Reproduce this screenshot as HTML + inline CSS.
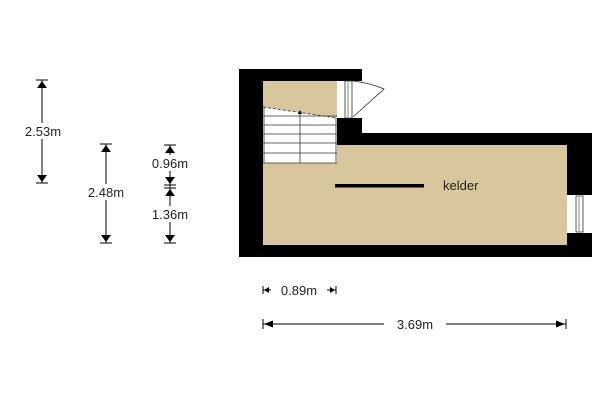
<!DOCTYPE html>
<html><head><style>body{margin:0;background:#fff}</style></head><body>
<svg width="600" height="400" xmlns="http://www.w3.org/2000/svg" font-family="Liberation Sans, sans-serif" font-size="13">
<rect width="600" height="400" fill="#fff"/>
<path d="M239,69 H362 V133 H592 V257 H239 Z" fill="#000"/>
<rect x="263" y="81" width="74" height="37" fill="#d8c79c"/>
<rect x="263" y="145" width="304" height="100" fill="#d8c79c"/>
<rect x="263" y="107" width="74" height="56" fill="#fff"/>
<path d="M263,107 L337,118 V107 Z" fill="#d8c79c"/>
<g stroke="#333" stroke-width="0.8">
<line x1="263" y1="116" x2="337" y2="116"/><line x1="263" y1="125" x2="337" y2="125"/><line x1="263" y1="134" x2="337" y2="134"/><line x1="263" y1="143" x2="337" y2="143"/><line x1="263" y1="153" x2="337" y2="153"/><line x1="263" y1="163" x2="337" y2="163"/>
<line x1="300" y1="113" x2="300" y2="163"/>
<line x1="263" y1="107" x2="337" y2="118" stroke-dasharray="3,2"/>
<line x1="264" y1="107" x2="264" y2="163"/><line x1="336" y1="118" x2="336" y2="163"/>
</g>
<path d="M300,110 l-2,4 h4 z" fill="#000"/>
<rect x="337" y="81" width="25" height="37" fill="#fff"/>
<rect x="345" y="81" width="7" height="37" fill="#fff" stroke="#333" stroke-width="0.8"/>
<line x1="348" y1="82" x2="348" y2="117" stroke="#333" stroke-width="0.6"/>
<path d="M353,117 L384,89 Q370,83 353,81" fill="none" stroke="#333" stroke-width="0.8"/>
<rect x="567" y="195" width="25" height="38" fill="#fff"/>
<rect x="576" y="196" width="7" height="36" fill="#fff" stroke="#333" stroke-width="0.8"/>
<line x1="579" y1="197" x2="579" y2="231" stroke="#333" stroke-width="0.6"/>
<rect x="335" y="184" width="89" height="3.5" fill="#000"/>
<text x="443" y="190" fill="#222">kelder</text>
<g stroke="#000" stroke-width="1" fill="#000">
<line x1="42" y1="80" x2="42" y2="183"/><line x1="36" y1="80" x2="48" y2="80"/><line x1="36" y1="183" x2="48" y2="183"/>
<path d="M42,81 l-5,7 h10z M42,182 l-5,-7 h10z" stroke="none"/>
<line x1="106" y1="144" x2="106" y2="243"/><line x1="100" y1="144" x2="112" y2="144"/><line x1="100" y1="243" x2="112" y2="243"/>
<path d="M106,145 l-5,7 h10z M106,242 l-5,-7 h10z" stroke="none"/>
<line x1="170" y1="145" x2="170" y2="243"/><line x1="164" y1="145" x2="176" y2="145"/><line x1="164" y1="185" x2="176" y2="185"/><line x1="164" y1="188" x2="176" y2="188"/><line x1="164" y1="243" x2="176" y2="243"/>
<path d="M170,146 l-5,7 h10z M170,184 l-5,-7 h10z M170,189 l-5,7 h10z M170,242 l-5,-7 h10z" stroke="none"/>
<line x1="263" y1="290" x2="336" y2="290"/><line x1="263" y1="286" x2="263" y2="294"/><line x1="336" y1="286" x2="336" y2="294"/>
<path d="M264,290 l5,-3 v6z M335,290 l-5,-3 v6z" stroke="none"/>
<line x1="263" y1="324" x2="566" y2="324"/><line x1="263" y1="319" x2="263" y2="329"/><line x1="566" y1="319" x2="566" y2="329"/>
<path d="M264,324 l9,-3.5 v7z M565,324 l-9,-3.5 v7z" stroke="none"/>
</g>
<g fill="#222" text-anchor="middle">
<rect x="16" y="123" width="54" height="16" fill="#fff"/><text x="43" y="136">2.53m</text>
<rect x="78" y="184" width="56" height="16" fill="#fff"/><text x="106" y="197">2.48m</text>
<rect x="141" y="155" width="58" height="16" fill="#fff"/><text x="170" y="168">0.96m</text>
<rect x="141" y="206" width="58" height="16" fill="#fff"/><text x="170" y="219">1.36m</text>
<rect x="271" y="282" width="56" height="16" fill="#fff"/><text x="299" y="295">0.89m</text>
<rect x="384" y="316" width="62" height="16" fill="#fff"/><text x="415" y="329">3.69m</text>
</g>
</svg>
</body></html>
